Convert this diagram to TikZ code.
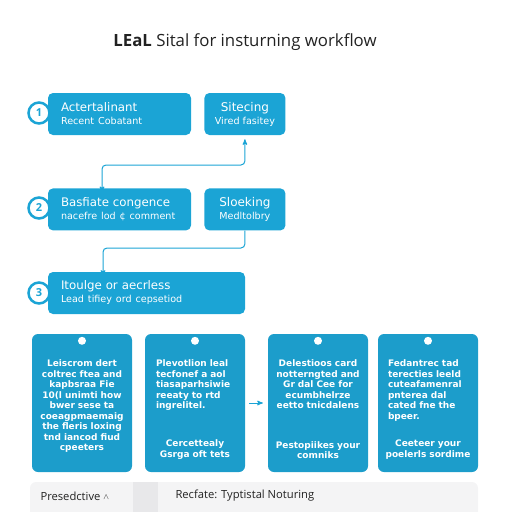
\documentclass[tikz,border=0pt]{standalone}
\usepackage{fontspec}
\setmainfont{Open Sans}
\newfontfamily\boxfont{DejaVu Sans}
\usetikzlibrary{arrows,positioning}

\definecolor{stepblue}{HTML}{1BA4D5}
\definecolor{cardblue}{HTML}{1C9DCB}
\definecolor{inkgray}{HTML}{222222}
\definecolor{barfill}{HTML}{F4F4F5}
\definecolor{barstrip}{HTML}{E8E8EA}

\tikzset{
  stepbox/.style={rectangle,rounded corners=5pt,fill=stepblue,text=white,
    minimum height=42pt,inner xsep=13pt,inner ysep=0pt,align=left,text width=#1,
    font=\boxfont\fontsize{11.8}{13}\selectfont},
  sidebox/.style={rectangle,rounded corners=5pt,fill=stepblue,text=white,
    minimum width=81pt,minimum height=42pt,inner sep=0pt,align=center,
    font=\boxfont\fontsize{12}{13}\selectfont},
  numdot/.style={circle,draw=stepblue,line width=2.5pt,fill=white,text=stepblue,
    minimum size=21pt,inner sep=0pt,font=\bfseries\fontsize{11}{11}\selectfont},
  card/.style={rectangle,rounded corners=6pt,fill=cardblue,
    minimum width=100pt,minimum height=138pt,inner sep=0pt},
  hole/.style={circle,fill=white,minimum size=8pt,inner sep=0pt},
  cardtext/.style={text=white,inner sep=0pt,text width=96pt,
    font=\boxfont\bfseries\fontsize{9}{10.5}\selectfont},
  link/.style={draw=stepblue,line width=1pt},
  tabtext/.style={text=inkgray,anchor=west,font=\fontsize{11.2}{13}\selectfont}
}
\newcommand{\subline}[1]{{\fontsize{9.6}{13}\selectfont #1}}

\begin{document}
\begin{tikzpicture}[x=1pt,y=-1pt,>=stealth',node distance=13pt]
\useasboundingbox (0,0) rectangle (512,512);

% title
\node[text=inkgray,font=\fontsize{16.8}{20}\selectfont] (title) at (245,42)
  {\textbf{LEaL} Sital for insturning workflow};

% steps
\node[stepbox=117pt] (b1) at (119.5,114) {Actertalinant\\\subline{Recent Cobatant}};
\node[sidebox] (s1) [right=of b1] {Sitecing\\\subline{Vired fasitey}};
\node[stepbox=117pt] (b2) [below=53pt of b1] {Basfiate congence\\\subline{nacefre lod ¢ comment}};
\node[sidebox] (s2) [right=of b2] {Sloeking\\\subline{Medltolbry}};
\node[stepbox=171pt] (b3) at (146.5,293) {Itoulge or aecrless\\\subline{Lead tifiey ord cepsetiod}};

\node[numdot] (n1) at (39,113) {1};
\node[numdot] (n2) at (39,208) {2};
\node[numdot] (n3) at (39,293) {3};

\coordinate (j1) at (102,165);
\coordinate (j2) at (103,248);
\draw[link,<->,rounded corners=4pt,shorten <=4pt]
  (s1.south) |- (j1) -- ([yshift=-4pt]j1 |- b2.north);
\draw[link,->,rounded corners=4pt]
  (s2.south) |- (j2) -- ([yshift=-4pt]j2 |- b3.north);

% cards
\node[card] (c1) at (82,403) {};
\node[card] (c2) at (195,403) {};
\node[card] (c3) at (318,403) {};
\node[card] (c4) at (428,403) {};
\foreach \c in {c1,c2,c3,c4}
  \node[hole] (\c h) at ([yshift=-7pt]\c.north) {};

\node[cardtext,align=center,anchor=north] (c1t) at ([yshift=-26pt]c1.north)
  {Leiscrom dert\\coltrec ftea and\\kapbsraa Fie\\10(l unimti how\\bwer sese ta\\coeagpmaemaig\\the fleris loxing\\tnd iancod fiud\\cpeeters};
\node[cardtext,align=left,anchor=north west] (c2t) at ([xshift=11pt,yshift=-26pt]c2.north west)
  {Plevotlion leal\\tecfonef a aol\\tiasaparhsiwie\\reeaty to rtd\\ingrelitel.};
\node[cardtext,align=center,anchor=south] (c2b) at ([yshift=13pt]c2.south)
  {Cercettealy\\Gsrga oft tets};
\node[cardtext,align=center,anchor=north] (c3t) at ([yshift=-26pt]c3.north)
  {Delestioos card\\notterngted and\\Gr dal Cee for\\ecumbhelrze\\eetto tnicdalens};
\node[cardtext,align=center,anchor=south] (c3b) at ([yshift=13pt]c3.south)
  {Pestopiikes your\\comniks};
\node[cardtext,align=left,anchor=north west] (c4t) at ([xshift=10pt,yshift=-26pt]c4.north west)
  {Fedantrec tad\\terecties leeld\\cuteafamenral\\pnterea dal\\cated fne the\\bpeer.};
\node[cardtext,align=center,anchor=south] (c4b) at ([yshift=13pt]c4.south)
  {Ceeteer your\\poelerls sordime};

\path[->] (c2) edge[link,shorten <=4pt,shorten >=5pt] (c3);

% bottom bar
\fill[barfill,rounded corners=6pt] (30,482) rectangle (478,530);
\fill[barstrip] (133,482) rectangle (158,512);
\node[tabtext] (tab1) at (37,496)
  {Presedctive \raisebox{0.5pt}{$\scriptstyle\wedge$}};
\node[tabtext] (tab2) at (172,496) {Recfate: Typtistal Noturing};
\end{tikzpicture}
\end{document}
